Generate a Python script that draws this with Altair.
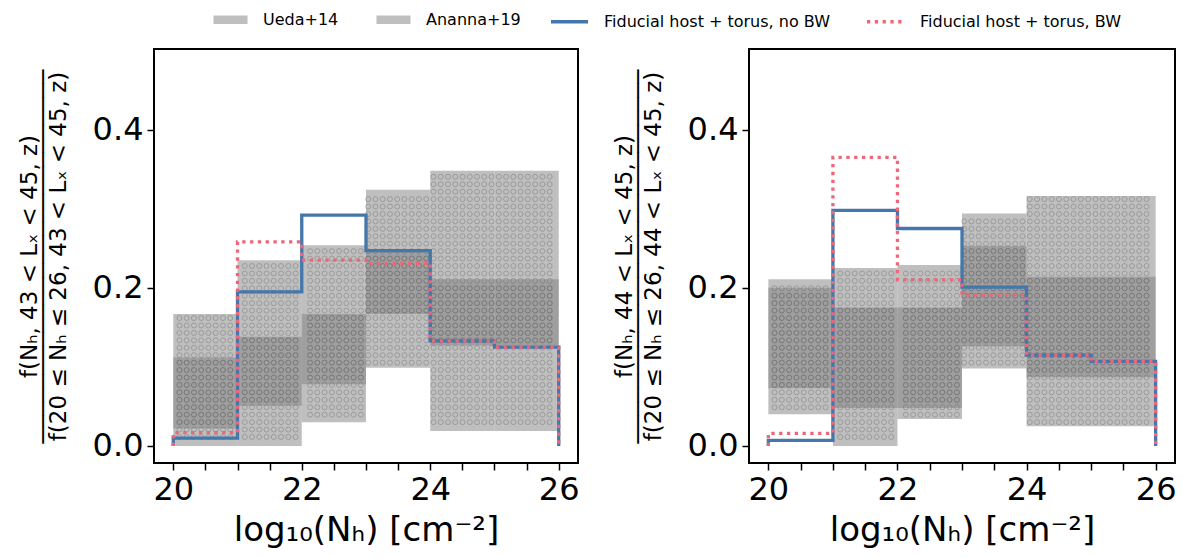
import altair as alt
import pandas as pd

# ---- data ----
edges = [20, 21, 22, 23, 24, 25, 26]

# left panel (43 < Lx < 45)
ueda_lo_L = [0.000, 0.000, 0.030, 0.099, 0.019, 0.019]
ueda_hi_L = [0.167, 0.235, 0.254, 0.324, 0.348, 0.348]
ananna_lo_L = [0.022, 0.051, 0.078, 0.167, 0.127, 0.127]
ananna_hi_L = [0.112, 0.138, 0.167, 0.247, 0.211, 0.211]
nobw_L = [0.010, 0.195, 0.292, 0.247, 0.133, 0.125]
bw_L = [0.017, 0.258, 0.235, 0.231, 0.133, 0.125]

# right panel (44 < Lx < 45)
ueda_lo_R = [0.040, 0.000, 0.034, 0.098, 0.025, 0.025]
ueda_hi_R = [0.211, 0.225, 0.229, 0.294, 0.316, 0.316]
ananna_lo_R = [0.073, 0.048, 0.048, 0.126, 0.087, 0.087]
ananna_hi_R = [0.200, 0.175, 0.175, 0.253, 0.214, 0.214]
nobw_R = [0.007, 0.298, 0.275, 0.201, 0.115, 0.107]
bw_R = [0.016, 0.365, 0.210, 0.191, 0.115, 0.107]

box_names = ["Ueda+14", "Ananna+19"]
line_names = ["Fiducial host + torus, no BW", "Fiducial host + torus, BW"]

BLUE = "#4477AA"
RED = "#EE6677"
FONT = "DejaVu Sans"

x_ticks = [20 + 0.5 * i for i in range(13)]
X_DOM = [19.7, 26.3]
Y_DOM = [-0.0215, 0.502]

# hatch ('o') texture spacing in data units
HATCH_DX = 0.113
HATCH_DY = 0.0094


def box_df(lo_a, hi_a, lo_b, hi_b):
    rows = []
    for i in range(6):
        rows.append({"x0": edges[i], "x1": edges[i + 1], "lo": lo_a[i], "hi": hi_a[i], "src": box_names[0]})
        rows.append({"x0": edges[i], "x1": edges[i + 1], "lo": lo_b[i], "hi": hi_b[i], "src": box_names[1]})
    return pd.DataFrame(rows)


def hatch_df(boxes):
    nx = int((X_DOM[1] - X_DOM[0]) / HATCH_DX) + 1
    ny = int((Y_DOM[1] - Y_DOM[0]) / HATCH_DY) + 1
    gx = [X_DOM[0] + (i + 0.5) * HATCH_DX for i in range(nx)]
    gy = [Y_DOM[0] + (j + 0.5) * HATCH_DY for j in range(ny)]
    rows = []
    for _, b in boxes.iterrows():
        for x in gx:
            if not (b.x0 + 0.03 < x < b.x1 - 0.03):
                continue
            for y in gy:
                if b.lo + 0.003 < y < b.hi - 0.003:
                    rows.append({"hx": x, "hy": y})
    return pd.DataFrame(rows)


def step_df(vals, name):
    xs = [edges[0]] + edges[:6] + [edges[6]]
    ys = [0.0] + list(vals) + [0.0]
    return pd.DataFrame({"x": xs, "y": ys, "idx": list(range(len(xs))), "model": name})


def panel(lo_a, hi_a, lo_b, hi_b, nobw, bw, lx, width):
    xscale = alt.Scale(domain=X_DOM, nice=False, zero=False)
    yscale = alt.Scale(domain=Y_DOM, nice=False, zero=False)
    num = f"f(Nₕ, {lx} < Lₓ < 45, z)"
    bar = "─" * 27
    den = f"f(20 ≤ Nₕ ≤ 26, {lx} < Lₓ < 45, z)"
    xaxis = alt.Axis(values=x_ticks, format=".0f",
                     labelExpr="datum.value % 2 == 0 ? datum.label : ''",
                     title="log₁₀(Nₕ) [cm⁻²]", grid=False)
    yaxis = alt.Axis(values=[0.0, 0.2, 0.4], format=".1f", title=[num, bar, den], grid=False)

    bdf = box_df(lo_a, hi_a, lo_b, hi_b)
    fill_leg = alt.Legend(title=None, orient="none", legendX=58, legendY=-48, direction="horizontal",
                          symbolType="M-0.92,-0.23H0.92V0.23H-0.92Z", symbolSize=1369,
                          symbolOpacity=0.5, symbolStrokeWidth=0, columnPadding=36)
    boxes = alt.Chart(bdf).mark_rect(opacity=0.5, strokeWidth=0).encode(
        x=alt.X("x0:Q", scale=xscale, axis=xaxis),
        x2="x1:Q",
        y=alt.Y("lo:Q", scale=yscale, axis=yaxis),
        y2="hi:Q",
        fill=alt.Fill("src:N", scale=alt.Scale(domain=box_names, range=["#808080", "#808080"]),
                      legend=fill_leg),
    )

    hatch = alt.Chart(hatch_df(bdf)).mark_point(
        shape="circle", filled=False, size=25, stroke="#666666", strokeWidth=0.9, opacity=0.45
    ).encode(
        x=alt.X("hx:Q", scale=xscale, axis=xaxis),
        y=alt.Y("hy:Q", scale=yscale, axis=yaxis),
    )

    stroke_scale = alt.Scale(domain=line_names, range=[BLUE, RED])
    dash_scale = alt.Scale(domain=line_names, range=[[1, 0], [3.3, 4.5]])
    leg = alt.Legend(title=None, orient="none", legendX=395, legendY=-48, direction="horizontal",
                     symbolType="stroke", symbolSize=1369, symbolStrokeWidth=3.3, columnPadding=29)

    def line_layer(vals, name):
        return alt.Chart(step_df(vals, name)).mark_line(interpolate="step-after", strokeWidth=3.3).encode(
            x=alt.X("x:Q", scale=xscale, axis=xaxis),
            y=alt.Y("y:Q", scale=yscale, axis=yaxis),
            order="idx:Q",
            stroke=alt.Stroke("model:N", scale=stroke_scale, legend=leg),
            strokeDash=alt.StrokeDash("model:N", scale=dash_scale, legend=leg),
        )

    return alt.layer(boxes, hatch, line_layer(nobw, line_names[0]), line_layer(bw, line_names[1])).properties(
        width=width, height=414)


left = panel(ueda_lo_L, ueda_hi_L, ananna_lo_L, ananna_hi_L, nobw_L, bw_L, 43, 424)
right = panel(ueda_lo_R, ueda_hi_R, ananna_lo_R, ananna_hi_R, nobw_R, bw_R, 44, 426)

chart = alt.hconcat(left, right, spacing=31).properties(
    padding={"left": 9, "top": -7, "right": 0, "bottom": 0}
).configure_view(
    stroke="black", strokeWidth=2
).configure_axis(
    domain=False, tickColor="black", tickWidth=1.5, tickSize=7,
    labelFont=FONT, labelFontSize=32, labelColor="black", labelPadding=4,
    titleFont=FONT, titleFontWeight="normal", titleColor="black",
).configure_axisX(
    titleFontSize=34, titlePadding=8, labelFlush=False, labelOverlap=False
).configure_axisY(
    titleFontSize=23, titlePadding=22, titleLineHeight=14.5
).configure_legend(
    labelFont=FONT, labelFontSize=16, labelColor="black", labelLimit=0, labelOffset=14
)

chart.save("out.html", embed_options={"renderer": "svg", "actions": False})
